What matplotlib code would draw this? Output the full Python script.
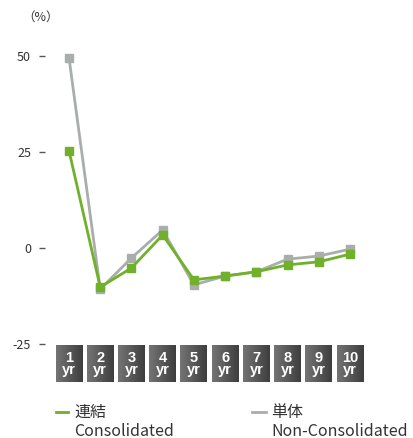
import numpy as np
import matplotlib.pyplot as plt
from matplotlib.colors import LinearSegmentedColormap
from matplotlib.lines import Line2D

years = list(range(1, 11))
year_labels = ['%d\nyr' % y for y in years]
consolidated = [25.3, -10.2, -5.2, 3.4, -8.3, -7.3, -6.2, -4.4, -3.6, -1.6]
non_consolidated = [49.5, -10.7, -2.6, 4.7, -9.6, -7.3, -6.2, -2.9, -2.1, -0.3]
yticks = [50, 25, 0, -25]

green = '#70b02a'
grey = '#a9adab'
jp = ['Noto Sans CJK JP', 'DejaVu Sans']

W, H = 413, 438
fig = plt.figure(figsize=(W / 100, H / 100), dpi=100)
ax = fig.add_axes([45 / W, 1 - 390 / H, 335 / W, 350 / H])

ax.plot(years, non_consolidated, color=grey, lw=2.0, marker='s', ms=6, zorder=3)
ax.plot(years, consolidated, color=green, lw=2.0, marker='s', ms=6, zorder=4)

ax.set_xlim(0.231, 10.96)
ax.set_ylim(-36.98, 54.17)
for s in ax.spines.values():
    s.set_visible(False)
ax.set_xticks([])
ax.set_yticks(yticks)
ax.set_yticklabels([str(t) for t in yticks], family=jp, fontsize=9, color='#333333')
ax.tick_params(axis='y', length=4, width=1, color='#555555', pad=6)

# year badges with a grey gradient
cmap = LinearSegmentedColormap.from_list('badge', ['#747474', '#3e3e3e'])
grad = np.linspace(0, 1, 64).reshape(1, -1)
for x, lab in zip(years, year_labels):
    ax.imshow(grad, cmap=cmap, aspect='auto', extent=(x - 0.43, x + 0.43, -34.9, -25.5),
              clip_on=False, zorder=2)
    ax.text(x, -30.3, lab, ha='center', va='center', color='white', fontsize=10.5,
            fontweight='bold', family='Liberation Sans', linespacing=0.8)

fig.text(22 / W, 1 - 17 / H, '（%）', family=jp, fontsize=9, color='#333333',
         ha='left', va='center')

# legend drawn by hand
fig.add_artist(Line2D([56 / W, 68 / W], [1 - 412 / H] * 2, color=green, lw=2))
fig.text(74 / W, 1 - 412 / H, '連結', family=jp, fontsize=11.5, color='#333333', va='center')
fig.text(74 / W, 1 - 431 / H, 'Consolidated', family=jp, fontsize=11.5, color='#333333', va='center')
fig.add_artist(Line2D([252 / W, 266 / W], [1 - 412 / H] * 2, color=grey, lw=2))
fig.text(271 / W, 1 - 412 / H, '単体', family=jp, fontsize=11.5, color='#333333', va='center')
fig.text(271 / W, 1 - 431 / H, 'Non-Consolidated', family=jp, fontsize=11.5, color='#333333', va='center')

fig.savefig('out.png', dpi=100)
